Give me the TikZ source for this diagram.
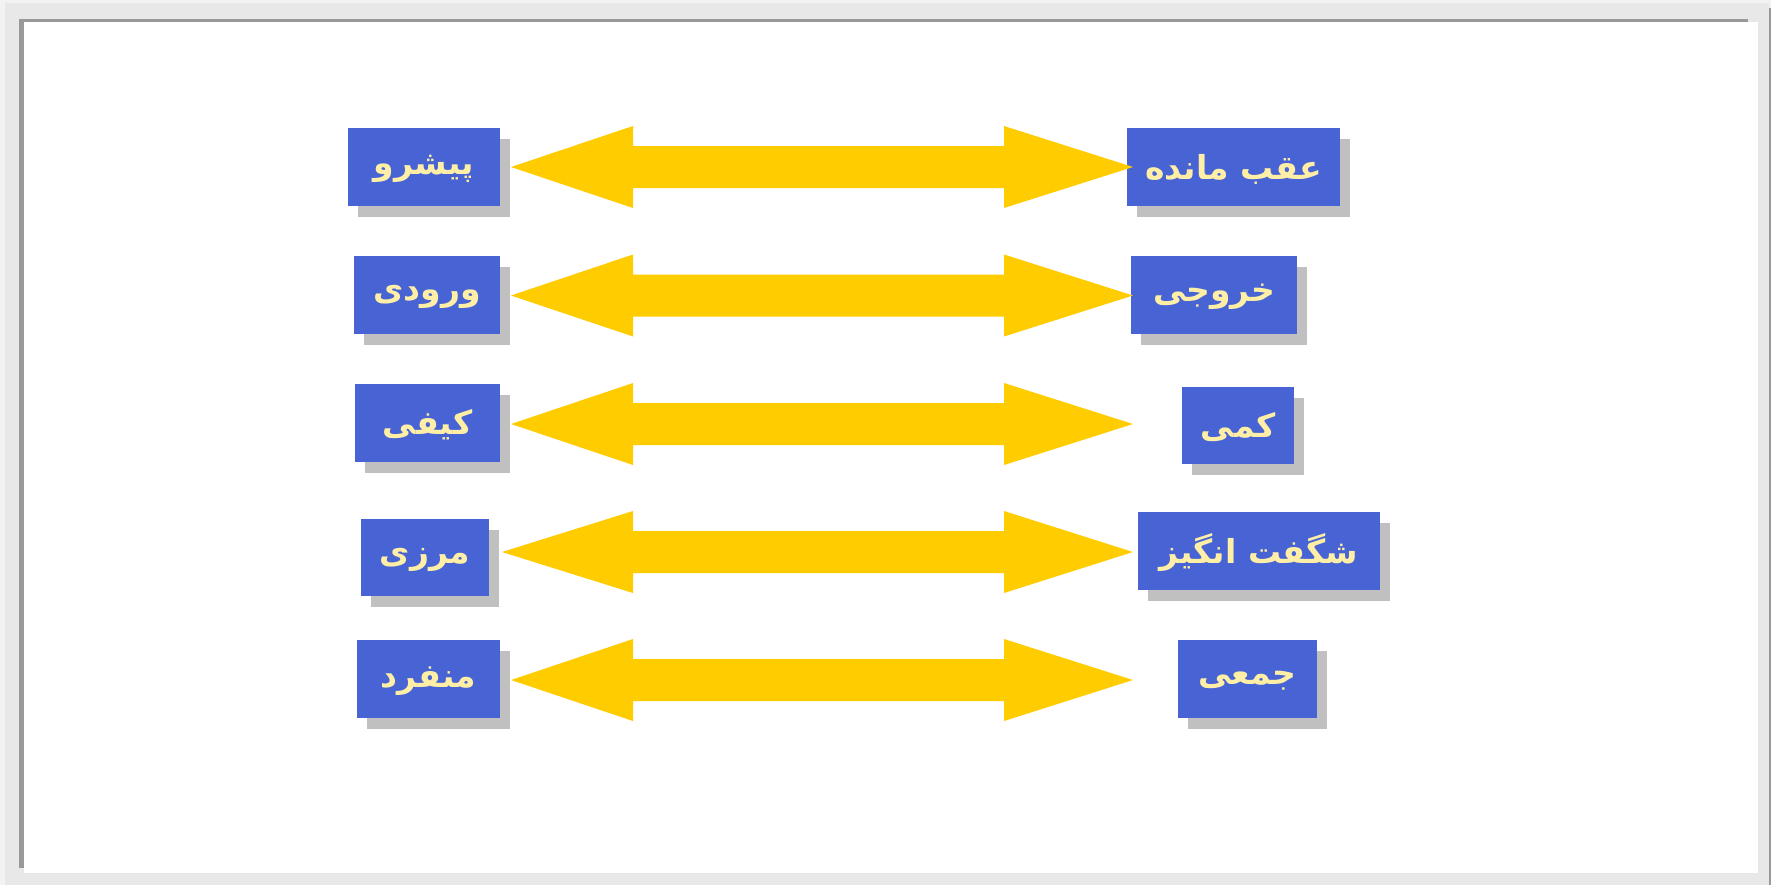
\documentclass[tikz,border=0pt]{standalone}
\usepackage{fontspec}
\usetikzlibrary{fit}
\TeXXeTstate=1
\newfontfamily\arabicfont[Script=Arabic]{DejaVu Sans}
\definecolor{outerc}{HTML}{F2F2F2}
\definecolor{bandc}{HTML}{E8E8E8}
\definecolor{darkc}{HTML}{999999}
\definecolor{boxc}{HTML}{4864D4}
\definecolor{txtc}{HTML}{FFEFA6}
\definecolor{shadc}{HTML}{C0C0C0}
\definecolor{arrc}{HTML}{FFCC00}
\tikzset{
  pbox/.style={fill=boxc, inner sep=0pt},
  ptxt/.style={inner sep=0pt, text=txtc, font=\arabicfont\bfseries\fontsize{16.5}{18}\selectfont},
}
% \parrow{center y}{left tip x}
\newcommand\parrow[2]{%
  \fill[arrc] (#2,#1) -- (633,#1-41) -- (633,#1-21) -- (1004,#1-21) -- (1004,#1-41)
    -- (1133,#1) -- (1004,#1+41) -- (1004,#1+21) -- (633,#1+21) -- (633,#1+41) -- cycle;}
% \pbox{name}{x1}{y1}{x2}{y2}{text}
\newcommand\pbox[6]{%
  \fill[shadc] (#2+10,#3+11) rectangle (#4+10,#5+11);
  \node[pbox, fit={(#2,#3)(#4,#5)}] (#1) {};
  \node[ptxt] (#1t) at ([yshift=-1pt]#1.center) {#6};}
\begin{document}
\begin{tikzpicture}[x=0.5pt,y=-0.5pt]
\useasboundingbox (0,0) rectangle (1771,885);
% frame
\fill[outerc] (0,0) rectangle (1771,885);
\fill[bandc] (5,3) rectangle (1769,885);
\fill[darkc] (19,19) rectangle (1748,22);
\fill[darkc] (19,19) rectangle (24,868);
\fill[white] (24,22) rectangle (1758,873);
\fill[darkc] (1769,8) rectangle (1771,885);
% boxes
\pbox{l1}{348}{128}{500}{206}{\beginR پیشرو\endR}
\pbox{r1}{1127}{128}{1340}{206}{\beginR عقب مانده\endR}
\pbox{l2}{354}{256}{500}{334}{\beginR ورودی\endR}
\pbox{r2}{1131}{256}{1297}{334}{\beginR خروجی\endR}
\pbox{l3}{355}{384}{500}{462}{\beginR کیفی\endR}
\pbox{r3}{1182}{387}{1294}{464}{\beginR کمی\endR}
\pbox{l4}{361}{519}{489}{596}{\beginR مرزی\endR}
\pbox{r4}{1138}{512}{1380}{590}{\beginR شگفت انگیز\endR}
\pbox{l5}{357}{640}{500}{718}{\beginR منفرد\endR}
\pbox{r5}{1178}{640}{1317}{718}{\beginR جمعی\endR}
% arrows
\parrow{167}{511}
\parrow{295.5}{511}
\parrow{424}{511}
\parrow{552}{502}
\parrow{680}{511}
\end{tikzpicture}
\end{document}
